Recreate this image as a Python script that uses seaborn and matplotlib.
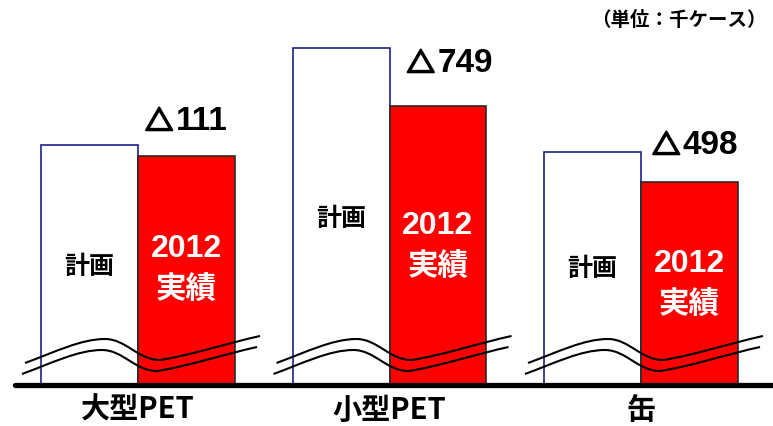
import matplotlib
matplotlib.use("Agg")
import matplotlib.pyplot as plt
import matplotlib.patheffects as pe
import seaborn as sns
import pandas as pd
from matplotlib.path import Path
from matplotlib.patches import PathPatch
from matplotlib.offsetbox import TextArea, HPacker, AnnotationBbox

# ---- data ----
categories = ["大型PET", "小型PET", "缶"]
series = ["計画", "2012実績"]
plan = [240, 337, 233]
actual = [229, 279, 203]
gap_labels = ["△111", "△749", "△498"]
unit_label = "（単位：千ケース）"

# ---- layout ----
W, H = 773, 426
base_px = 385          # baseline, px from top
left_px = 15
unit_px = 251.5        # px per category step
x0_px = 138            # px of first category centre
bar_width = 0.77

plan_text_h = [118, 166, 116]
actual_text_h = [136, 159, 121]
gap_dx_px = [0, 12, 6]
gap_dy = [34, 42, 36]

sns.set_theme(style="white")
cjk = "Noto Sans CJK JP"
mixed = ["Liberation Sans", cjk]

df = pd.DataFrame({
    "cat": categories * 2,
    "kind": [series[0]] * 3 + [series[1]] * 3,
    "val": plan + actual,
})

fig = plt.figure(figsize=(W / 100, H / 100), dpi=100)
ax_w = (W - left_px) / W
ax = fig.add_axes([left_px / W, (H - base_px) / H, ax_w, base_px / H])

sns.barplot(data=df, x="cat", y="val", hue="kind", order=categories,
            hue_order=series, palette=["white", "#ff0000"], width=bar_width,
            saturation=1, legend=False, ax=ax, zorder=2)

for bar in ax.containers[0]:
    bar.set_edgecolor("#1f1f8f")
    bar.set_linewidth(1.2)
for bar in ax.containers[1]:
    bar.set_edgecolor("#2a2a2a")
    bar.set_linewidth(1.2)

ax.set_xlim((left_px - x0_px) / unit_px, (W - x0_px) / unit_px)
ax.set_ylim(0, base_px)
for s in ax.spines.values():
    s.set_visible(False)
ax.set_xticks([])
ax.set_yticks([])
ax.set_xlabel("")
ax.set_ylabel("")
ax.axhline(0, color="black", lw=3.8, zorder=5, clip_on=False)

# ---- wavy break marks ----
def wave(cx, dx_off, dh_off):
    pts = [(-113, 22),
           (-83, 33), (-57, 46), (-33, 46),
           (-12, 46), (0, 25), (22, 25),
           (50, 29), (90, 42), (122, 49)]
    verts = [(cx + (px + dx_off) / unit_px, h + dh_off) for px, h in pts]
    codes = [Path.MOVETO] + [Path.CURVE4] * 9
    return PathPatch(Path(verts, codes), fill=False, edgecolor="black",
                     lw=1.5, zorder=4, clip_on=False)

for i in range(len(categories)):
    ax.add_patch(wave(i, 0, 0))
    ax.add_patch(wave(i, -3, -11))

# ---- text ----
q = bar_width / 4
thick = [pe.withStroke(linewidth=1.6, foreground="black")]
for i, cat in enumerate(categories):
    ax.text(i - q, plan_text_h[i], series[0], ha="center", va="center",
            fontsize=18, fontweight="bold", family=cjk, color="black", zorder=6)
    ax.text(i + q, actual_text_h[i], series[1][:4], ha="center", va="center",
            fontsize=23, fontweight="bold", family=mixed, color="white", zorder=6)
    ax.text(i + q, actual_text_h[i] - 41, series[1][4:], ha="center", va="center",
            fontsize=22, fontweight="bold", family=cjk, color="white", zorder=6)

    # difference label: triangle in the CJK face, digits in the Latin face
    tri = TextArea(gap_labels[i][0], textprops=dict(
        fontsize=20, fontweight="bold", family=cjk, color="black",
        path_effects=thick))
    num = TextArea(gap_labels[i][1:], textprops=dict(
        fontsize=24, fontweight="bold", family="Liberation Sans", color="black"))
    box = HPacker(children=[tri, num], align="baseline", pad=0, sep=2)
    ab = AnnotationBbox(box, (i + q + gap_dx_px[i] / unit_px, actual[i] + gap_dy[i]),
                        xycoords="data", frameon=False, box_alignment=(0.5, 0.5),
                        pad=0, zorder=6, annotation_clip=False)
    ax.add_artist(ab)

    ax.text(i, -25, cat, ha="center", va="center", fontsize=21,
            fontweight="bold", family=cjk, color="black", clip_on=False)

fig.text(767 / W, 1 - 20 / H, unit_label, ha="right", va="center",
         fontsize=14, fontweight="bold", family=cjk, color="black")

fig.savefig("out.png", dpi=100, facecolor="white")
